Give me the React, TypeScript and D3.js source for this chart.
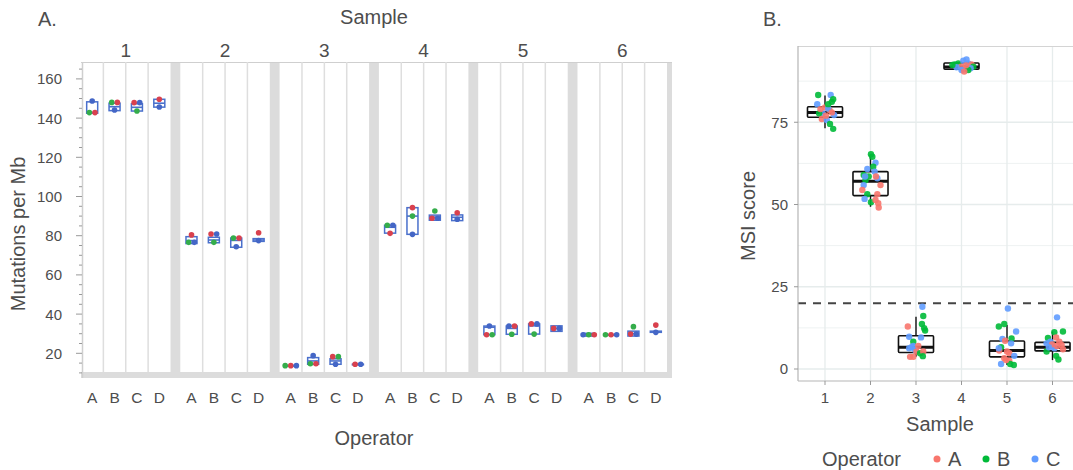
import React, { useEffect } from 'react';
import * as d3 from 'd3';

// ---------- Panel A data ----------
const samples = ['1', '2', '3', '4', '5', '6'];
const operators = ['A', 'B', 'C', 'D'];
const yTicksA = [20, 40, 60, 80, 100, 120, 140, 160];
const yMinorA = [10, 15, 25, 30, 35, 45, 50, 55, 65, 70, 75, 85, 90, 95, 105, 110, 115, 125, 130, 135, 145, 150, 155, 165];

type Pt = [number, string]; // value, replicate colour key
// points per operator (A..D), left-to-right order where tied
const tmbSample1: Pt[][] = [
  [[148.7, 'b'], [142.8, 'g'], [142.8, 'r']],
  [[148.0, 'g'], [148.0, 'r'], [144.1, 'b']],
  [[147.9, 'r'], [147.9, 'b'], [143.6, 'g']],
  [[149.6, 'r'], [145.7, 'b']],
];
const tmbSample2: Pt[][] = [
  [[80.4, 'r'], [76.6, 'g'], [76.6, 'b']],
  [[80.9, 'r'], [80.9, 'b'], [76.6, 'g']],
  [[78.8, 'g'], [78.8, 'r'], [74.4, 'b']],
  [[81.5, 'r'], [77.5, 'b']],
];
const tmbSample3: Pt[][] = [
  [[13.7, 'g'], [13.7, 'r'], [13.7, 'b']],
  [[18.8, 'b'], [14.7, 'g'], [14.7, 'r']],
  [[18.3, 'r'], [18.3, 'g'], [14.4, 'b']],
  [[14.4, 'r'], [14.4, 'b']],
];
const tmbSample4: Pt[][] = [
  [[85.3, 'g'], [85.3, 'b'], [81.2, 'r']],
  [[94.3, 'r'], [90.0, 'g'], [80.7, 'b']],
  [[92.6, 'g'], [88.9, 'r'], [88.9, 'b']],
  [[91.7, 'r'], [88.4, 'b']],
];
const tmbSample5: Pt[][] = [
  [[33.9, 'b'], [29.5, 'r'], [29.5, 'g']],
  [[33.9, 'b'], [33.9, 'r'], [29.7, 'g']],
  [[35.0, 'r'], [35.0, 'b'], [29.8, 'g']],
  [[32.7, 'r'], [32.7, 'b']],
];
const tmbSample6: Pt[][] = [
  [[29.5, 'b'], [29.5, 'g'], [29.5, 'r']],
  [[29.5, 'g'], [29.5, 'r'], [29.5, 'b']],
  [[33.6, 'g'], [29.8, 'r'], [29.8, 'b']],
  [[34.4, 'r'], [30.7, 'b']],
];
// box: [low, median, high]
const tmbBox1 = [[142.5, 142.8, 148.3], [143.8, 145.8, 147.6], [143.6, 145.5, 147.3], [145.6, 147.6, 149.6]];
const tmbBox2 = [[76.0, 77.5, 79.5], [76.4, 77.8, 79.2], [74.1, 77.6, 78.8], [77.1, 77.8, 78.5]];
const tmbBox3 = [[13.7, 13.7, 13.7], [14.4, 16.1, 17.8], [14.4, 16.1, 17.2], [14.4, 14.4, 14.4]];
const tmbBox4 = [[81.3, 84.3, 85.3], [80.7, 90.0, 94.3], [87.9, 89.5, 90.5], [87.7, 89.4, 90.6]];
const tmbBox5 = [[29.5, 33.3, 33.9], [29.7, 32.7, 33.9], [29.8, 34.0, 35.0], [31.2, 32.7, 34.0]];
const tmbBox6 = [[28.8, 29.5, 30.2], [29.5, 29.5, 29.5], [28.8, 30.0, 31.3], [30.7, 30.9, 31.3]];

const tmbPoints = [tmbSample1, tmbSample2, tmbSample3, tmbSample4, tmbSample5, tmbSample6];
const tmbBoxes = [tmbBox1, tmbBox2, tmbBox3, tmbBox4, tmbBox5, tmbBox6];
const repColors: Record<string, string> = { r: '#d9414e', g: '#35ad4b', b: '#4466c6' };

// ---------- Panel B data ----------
const msiTicks = [0, 25, 50, 75];
const msiMinor = [12.5, 37.5, 62.5, 87.5];
const msiThreshold = 20;
const msiOperators = ['A', 'B', 'C'];
const msiColors: Record<string, string> = { A: '#F8766D', B: '#00BA38', C: '#619CFF' };
type MP = [number, number, string]; // jitter (sample units), MSI score, operator
const msiSample1: MP[] = [
  [-0.15, 83.3, 'B'], [0.125, 83.3, 'C'], [-0.17, 80.5, 'C'], [0.15, 81.2, 'B'], [0.18, 82.0, 'B'],
  [0.0, 79.5, 'A'], [-0.05, 77.7, 'C'], [-0.13, 77.7, 'B'], [-0.07, 76.0, 'A'], [0.04, 75.7, 'C'],
  [0.2, 77.2, 'C'], [0.11, 74.5, 'B'], [0.18, 73.0, 'B'], [0.1, 78.7, 'A'], [0.02, 77.0, 'A'],
  [0.07, 79.2, 'C'], [0.07, 80.5, 'B'], [-0.1, 79.0, 'A'], [0.15, 78.0, 'A'],
];
const msiSample2: MP[] = [
  [0.01, 65.3, 'B'], [0.04, 64.5, 'B'], [0.11, 62.7, 'C'], [0.06, 61.5, 'B'], [-0.07, 60.8, 'C'],
  [0.09, 60.0, 'C'], [-0.15, 59.0, 'B'], [0.15, 58.0, 'C'], [-0.11, 57.4, 'B'], [0.22, 55.9, 'A'],
  [-0.15, 55.9, 'C'], [-0.18, 54.4, 'A'], [-0.07, 53.1, 'B'], [0.15, 53.1, 'A'], [-0.13, 51.7, 'C'],
  [0.01, 50.7, 'B'], [0.17, 50.4, 'A'], [0.18, 49.1, 'A'], [0.11, 51.4, 'A'], [-0.04, 58.5, 'B'],
  [0.12, 58.5, 'A'], [-0.12, 58.5, 'C'],
];
const msiSample3: MP[] = [
  [0.14, 18.9, 'C'], [0.16, 16.1, 'B'], [0.13, 13.7, 'B'], [0.18, 12.4, 'B'], [0.2, 11.7, 'B'],
  [-0.18, 12.9, 'A'], [-0.15, 9.8, 'C'], [0.11, 9.6, 'C'], [-0.06, 8.3, 'B'], [-0.1, 6.6, 'C'],
  [-0.02, 5.8, 'C'], [0.01, 5.3, 'A'], [0.09, 4.8, 'B'], [-0.13, 3.7, 'A'], [-0.06, 3.7, 'A'],
  [0.16, 5.3, 'A'], [0.15, 3.9, 'B'], [-0.06, 7.0, 'C'], [-0.15, 6.3, 'C'], [0.05, 7.0, 'A'],
];
const msiSample4: MP[] = [
  [-0.15, 92.6, 'B'], [-0.07, 92.9, 'B'], [0.04, 93.7, 'C'], [0.11, 94.1, 'C'], [0.15, 92.9, 'C'],
  [0.22, 92.6, 'A'], [0.26, 91.9, 'B'], [0.07, 91.1, 'A'], [-0.01, 91.9, 'A'], [-0.11, 91.7, 'C'],
  [0.2, 91.4, 'C'], [0.15, 90.9, 'B'], [0.0, 90.9, 'C'], [0.06, 90.4, 'A'], [-0.2, 92.4, 'B'],
  [0.1, 92.3, 'A'],
];
const msiSample5: MP[] = [
  [0.02, 18.4, 'C'], [-0.18, 12.9, 'B'], [-0.06, 13.7, 'B'], [0.2, 11.4, 'C'], [0.1, 9.3, 'B'],
  [-0.1, 9.1, 'C'], [-0.04, 8.6, 'A'], [0.09, 7.8, 'C'], [-0.13, 6.6, 'B'], [-0.17, 5.6, 'A'],
  [0.05, 4.8, 'A'], [0.16, 4.0, 'C'], [-0.06, 3.3, 'A'], [0.05, 2.5, 'A'], [0.07, 1.5, 'B'],
  [0.15, 1.2, 'B'], [-0.13, 1.5, 'C'], [-0.02, 2.7, 'A'], [-0.18, 6.3, 'C'], [0.0, 5.3, 'A'],
];
const msiSample6: MP[] = [
  [0.1, 15.7, 'C'], [0.04, 11.2, 'B'], [0.23, 11.4, 'B'], [-0.1, 9.4, 'B'], [0.08, 9.6, 'A'],
  [-0.05, 8.3, 'C'], [0.15, 8.3, 'A'], [-0.13, 7.8, 'C'], [-0.01, 6.8, 'C'], [0.2, 7.3, 'A'],
  [0.23, 6.0, 'A'], [-0.13, 5.3, 'B'], [0.04, 6.3, 'C'], [0.08, 4.0, 'B'], [0.13, 2.9, 'B'],
  [-0.01, 7.5, 'A'], [-0.08, 6.6, 'C'], [0.1, 7.0, 'A'],
];
const msiPoints = [msiSample1, msiSample2, msiSample3, msiSample4, msiSample5, msiSample6];
// [whisker low, q1, median, q3, whisker high]
const msiBoxes = [
  [73.2, 76.5, 78.0, 79.7, 83.1],
  [49.3, 52.7, 57.1, 60.0, 65.3],
  [3.7, 5.0, 6.6, 10.1, 15.9],
  [90.5, 91.1, 91.8, 93.0, 93.5],
  [1.2, 3.7, 5.6, 8.5, 13.4],
  [2.7, 5.5, 6.6, 8.1, 11.4],
];

const FONT = '"Liberation Sans", Arial, Helvetica, sans-serif';
const TXT = '#4d4d4d';

export default function App() {
  useEffect(() => {
    document.body.style.margin = '0';
  }, []);

  // ----- Panel A scales -----
  const aLeft = 81, aRight = 667, aTop = 62, aBottom = 372;
  const xFacet = d3.scaleBand<string>().domain(samples).range([aLeft, aRight]).paddingInner(0.0987).paddingOuter(0);
  const colScale = d3.scaleBand<string>().domain(operators).range([0, xFacet.bandwidth()]);
  const yA = d3.scaleLinear().domain([20, 160]).range([353.3, 78.9]);
  const boxW = 11;
  const ptR = 2.8;
  const dodgeStep = 5.6;

  const dodge = (pts: Pt[]) => {
    const out: { v: number; c: string; dx: number }[] = [];
    let group: Pt[] = [];
    const flush = () => {
      group.forEach((p, k) => out.push({ v: p[0], c: p[1], dx: (k - (group.length - 1) / 2) * dodgeStep }));
      group = [];
    };
    pts.forEach((p) => {
      if (group.length && Math.abs(yA(p[0]) - yA(group[0][0])) > 4) flush();
      group.push(p);
    });
    flush();
    return out;
  };

  // ----- Panel B scales -----
  const bLeft = 798, bTop = 46, bBottom = 381;
  const xB = d3.scaleLinear().domain([1, 6]).range([825, 1052.5]);
  const yB = d3.scaleLinear().domain([0, 75]).range([369, 122.25]);
  const bRight = xB(6.6);
  const halfBox = 0.385;

  return (
    <svg width={1073} height={470} style={{ position: 'absolute', left: 0, top: 0, background: '#fff' }} fontFamily={FONT}>
      {/* ================= Panel A ================= */}
      <text x={38} y={26} fontSize={20} fill={TXT}>A.</text>
      <text x={(aLeft + aRight) / 2} y={24} fontSize={20} fill={TXT} textAnchor="middle">Sample</text>
      {samples.map((s) => (
        <text key={'st' + s} x={xFacet(s)! + xFacet.bandwidth() / 2} y={57} fontSize={19} fill={TXT} textAnchor="middle">{s}</text>
      ))}
      {/* panel background */}
      <rect x={aLeft} y={aTop} width={aRight + 5 - aLeft} height={aBottom + 6 - aTop} fill="#dcdcdc" />
      {samples.map((s) => (
        <rect key={'fw' + s} x={xFacet(s)!} y={aTop} width={xFacet.bandwidth()} height={aBottom - aTop} fill="#fff" />
      ))}
      <line x1={aLeft} x2={aRight + 5} y1={aTop + 0.5} y2={aTop + 0.5} stroke="#cfcfcf" strokeWidth={1} />
      <line x1={aLeft + 1.5} x2={aLeft + 1.5} y1={aTop} y2={aBottom + 6} stroke="#cfcfcf" strokeWidth={1.5} />
      {samples.map((s) =>
        operators.slice(1).map((o) => (
          <line key={'sep' + s + o} x1={xFacet(s)! + colScale(o)!} x2={xFacet(s)! + colScale(o)!} y1={aTop} y2={aBottom}
            stroke="#dedede" strokeWidth={1.5} />
        ))
      )}
      {/* y axis */}
      {yMinorA.map((v) => (
        <line key={'mt' + v} x1={aLeft - 2} x2={aLeft + 1} y1={yA(v)} y2={yA(v)} stroke="#999" strokeWidth={1} />
      ))}
      {yTicksA.map((v) => (
        <g key={'yt' + v}>
          <line x1={aLeft - 5} x2={aLeft + 1} y1={yA(v)} y2={yA(v)} stroke="#999" strokeWidth={1} />
          <text x={aLeft - 19} y={yA(v)} dy="0.36em" fontSize={15} fill={TXT} textAnchor="end">{v}</text>
        </g>
      ))}
      <text transform={`translate(25,234) rotate(-90)`} fontSize={20} fill={TXT} textAnchor="middle">Mutations per Mb</text>
      {/* boxes and points */}
      {samples.map((s, si) =>
        operators.map((o, oi) => {
          const cx = xFacet(s)! + colScale(o)! + colScale.bandwidth() / 2;
          const [lo, med, hi] = tmbBoxes[si][oi];
          const pts = dodge(tmbPoints[si][oi]);
          return (
            <g key={'c' + s + o}>
              <rect x={cx - boxW / 2} y={yA(hi)} width={boxW} height={Math.max(yA(lo) - yA(hi), 0.5)} fill="#fff"
                stroke="#4a70cc" strokeWidth={1.5} />
              <line x1={cx - boxW / 2} x2={cx + boxW / 2} y1={yA(med)} y2={yA(med)} stroke="#4a70cc" strokeWidth={1.6} />
              {pts.map((p, k) => (
                <circle key={k} cx={cx + p.dx} cy={yA(p.v)} r={ptR} fill={repColors[p.c]} />
              ))}
            </g>
          );
        })
      )}
      {/* x labels */}
      {samples.map((s) =>
        operators.map((o) => (
          <text key={'xl' + s + o} x={xFacet(s)! + colScale(o)! + colScale.bandwidth() / 2} y={403} fontSize={15.5}
            fill={TXT} textAnchor="middle">{o}</text>
        ))
      )}
      <text x={(aLeft + aRight) / 2} y={445} fontSize={20} fill={TXT} textAnchor="middle">Operator</text>

      {/* ================= Panel B ================= */}
      <text x={763} y={26} fontSize={20} fill={TXT}>B.</text>
      <defs>
        <clipPath id="clipB">
          <rect x={bLeft} y={bTop} width={bRight - bLeft} height={bBottom - bTop} />
        </clipPath>
      </defs>
      <g clipPath="url(#clipB)">
        {msiMinor.map((v) => (
          <line key={'bm' + v} x1={bLeft} x2={bRight} y1={yB(v)} y2={yB(v)} stroke="#eef2f2" strokeWidth={1} />
        ))}
        {msiTicks.map((v) => (
          <line key={'bg' + v} x1={bLeft} x2={bRight} y1={yB(v)} y2={yB(v)} stroke="#e6ecec" strokeWidth={1.3} />
        ))}
        {samples.map((s, i) => (
          <line key={'bv' + s} x1={xB(i + 1)} x2={xB(i + 1)} y1={bTop} y2={bBottom} stroke="#e6ecec" strokeWidth={1.3} />
        ))}
        <line x1={bLeft} x2={bRight} y1={yB(msiThreshold)} y2={yB(msiThreshold)} stroke="#444" strokeWidth={2}
          strokeDasharray="8,7" />
        {msiBoxes.map((b, i) => {
          const cx = xB(i + 1);
          const x0 = xB(i + 1 - halfBox), x1 = xB(i + 1 + halfBox);
          return (
            <g key={'bb' + i}>
              <line x1={cx} x2={cx} y1={yB(b[4])} y2={yB(b[3])} stroke="#111" strokeWidth={1.4} />
              <line x1={cx} x2={cx} y1={yB(b[1])} y2={yB(b[0])} stroke="#111" strokeWidth={1.4} />
              <rect x={x0} y={yB(b[3])} width={x1 - x0} height={yB(b[1]) - yB(b[3])} fill="#fff" stroke="#111"
                strokeWidth={1.6} rx={1} />
              <line x1={x0} x2={x1} y1={yB(b[2])} y2={yB(b[2])} stroke="#111" strokeWidth={3} />
            </g>
          );
        })}
        {msiPoints.map((arr, i) =>
          arr.map((p, k) => (
            <circle key={'mp' + i + '-' + k} cx={xB(i + 1 + p[0])} cy={yB(p[1])} r={3.2} fill={msiColors[p[2]]}
              fillOpacity={0.9} />
          ))
        )}
      </g>
      <line x1={bLeft} x2={1073} y1={bTop + 0.5} y2={bTop + 0.5} stroke="#d4d4d4" strokeWidth={1} />
      <line x1={bLeft} x2={bLeft} y1={bTop} y2={bBottom} stroke="#b5b5b5" strokeWidth={1.2} />
      <line x1={bLeft} x2={1073} y1={bBottom} y2={bBottom} stroke="#b5b5b5" strokeWidth={1.2} />
      {msiTicks.map((v) => (
        <g key={'byt' + v}>
          <line x1={bLeft - 4} x2={bLeft} y1={yB(v)} y2={yB(v)} stroke="#999" strokeWidth={1} />
          <text x={bLeft - 10} y={yB(v)} dy="0.36em" fontSize={15} fill={TXT} textAnchor="end">{v}</text>
        </g>
      ))}
      {samples.map((s, i) => (
        <g key={'bxt' + s}>
          <line x1={xB(i + 1)} x2={xB(i + 1)} y1={bBottom} y2={bBottom + 4} stroke="#999" strokeWidth={1} />
          <text x={xB(i + 1)} y={403} fontSize={15} fill={TXT} textAnchor="middle">{s}</text>
        </g>
      ))}
      <text transform={`translate(755,216) rotate(-90)`} fontSize={20} fill={TXT} textAnchor="middle">MSI score</text>
      <text x={940} y={431} fontSize={20} fill={TXT} textAnchor="middle">Sample</text>
      {/* legend */}
      <text x={822} y={466} fontSize={20} fill={TXT}>Operator</text>
      {msiOperators.map((o, i) => (
        <g key={'lg' + o} transform={`translate(${937 + i * 49},0)`}>
          <circle cx={0} cy={459} r={3.5} fill={msiColors[o]} />
          <text x={11} y={466} fontSize={20} fill={TXT}>{o}</text>
        </g>
      ))}
    </svg>
  );
}
